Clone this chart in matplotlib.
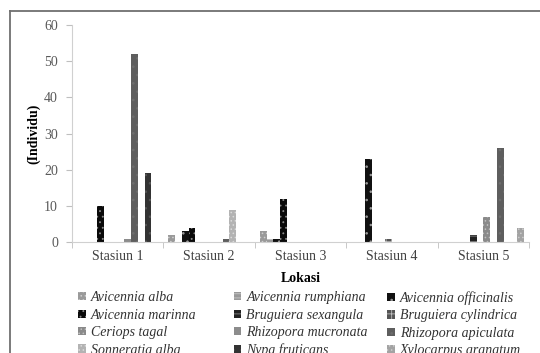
import matplotlib
matplotlib.use('Agg')
import matplotlib.pyplot as plt
import numpy as np
from matplotlib.lines import Line2D
from matplotlib.patches import Patch

plt.rcParams['font.family'] = 'Liberation Serif'
plt.rcParams['hatch.linewidth'] = 0.6

# lokasi pengamatan
stasiun = ['Stasiun 1', 'Stasiun 2', 'Stasiun 3', 'Stasiun 4', 'Stasiun 5']

# jenis mangrove dan jumlah individu per stasiun
jenis = ['Avicennia alba', 'Avicennia rumphiana', 'Avicennia officinalis',
         'Avicennia marinna', 'Bruguiera sexangula', 'Bruguiera cylindrica',
         'Ceriops tagal', 'Rhizopora mucronata', 'Rhizopora apiculata',
         'Sonneratia alba', 'Nypa fruticans', 'Xylocarpus granatum']
avicennia_alba = [0, 2, 3, 0, 0]
avicennia_rumphiana = [0, 0, 1, 0, 0]
avicennia_officinalis = [0, 3, 1, 23, 0]
avicennia_marinna = [10, 4, 12, 0, 0]
bruguiera_sexangula = [0, 0, 0, 0, 2]
bruguiera_cylindrica = [0, 0, 0, 1, 0]
ceriops_tagal = [0, 0, 0, 0, 7]
rhizopora_mucronata = [1, 0, 0, 0, 0]
rhizopora_apiculata = [52, 1, 0, 0, 26]
sonneratia_alba = [0, 9, 0, 0, 0]
nypa_fruticans = [19, 0, 0, 0, 0]
xylocarpus_granatum = [0, 0, 0, 0, 4]

nilai = [avicennia_alba, avicennia_rumphiana, avicennia_officinalis,
         avicennia_marinna, bruguiera_sexangula, bruguiera_cylindrica,
         ceriops_tagal, rhizopora_mucronata, rhizopora_apiculata,
         sonneratia_alba, nypa_fruticans, xylocarpus_granatum]

# isi pola (warna dasar, warna pola, hatch)
pola = [('#9a9a9a', '#cfcfcf', '....'),
        ('#999999', '#c8c8c8', '----'),
        ('#111111', '#9a9a9a', '..'),
        ('#0a0a0a', '#8a8a8a', '...'),
        ('#222222', '#8a8a8a', '---'),
        ('#555555', '#bdbdbd', '+++'),
        ('#8a8a8a', '#c0c0c0', '....'),
        ('#8c8c8c', '#8c8c8c', ''),
        ('#5e5e5e', '#6e6e6e', '..'),
        ('#b3b3b3', '#dadada', '....'),
        ('#333333', '#555555', '..'),
        ('#a3a3a3', '#cccccc', '....')]

fig = plt.figure(figsize=(5.4, 3.53), dpi=100)
ax = fig.add_axes([0.133, 0.314, 0.847, 0.615])

x = np.arange(len(stasiun))
w = 1.0 / 13.5
for i, vals in enumerate(nilai):
    fc, hc, h = pola[i]
    ax.bar(x + (i - 5.5) * w, vals, w, color=fc, edgecolor=hc, hatch=h,
           linewidth=0)

ax.set_xlim(-0.5, 4.5)
ax.set_ylim(0, 60)
ax.set_yticks(np.arange(0, 61, 10))
ax.set_xticks(x)
ax.set_xticklabels(stasiun, fontsize=10, color='#404040')
ax.set_xticks(np.arange(-0.5, 5, 1), minor=True)
ax.tick_params(axis='x', which='major', length=0, pad=6)
ax.tick_params(axis='x', which='minor', length=4, color='#bfbfbf')
ax.tick_params(axis='y', length=4, color='#bfbfbf', labelsize=10,
               labelcolor='#595959', pad=6)
for s in ['top', 'right']:
    ax.spines[s].set_visible(False)
ax.spines['left'].set_color('#d0d0d0')
ax.spines['bottom'].set_color('#d0d0d0')

ax.set_ylabel('(Individu)', fontsize=10, fontweight='bold', labelpad=3)
ax.set_xlabel('Lokasi', fontsize=10, fontweight='bold', labelpad=6)

# legenda tiga kolom
handles = [Patch(facecolor=p[0], edgecolor=p[1], hatch=p[2], linewidth=0)
           for p in pola]
kolom_x = [0.145, 0.433, 0.717]
for k in range(3):
    idx = list(range(k, 12, 3))
    leg = fig.legend([handles[j] for j in idx], [jenis[j] for j in idx],
                     loc='upper left', bbox_to_anchor=(kolom_x[k], 0.175),
                     frameon=False, handlelength=0.55, handleheight=0.55,
                     handletextpad=0.35, labelspacing=0.32, borderpad=0,
                     borderaxespad=0,
                     prop={'family': 'Liberation Serif', 'style': 'italic',
                           'size': 10})
    for t in leg.get_texts():
        t.set_color('#333333')

# bingkai area grafik (atas dan kiri)
fig.add_artist(Line2D([0.0185, 1.0], [0.969, 0.969], color='#707070',
                      linewidth=1.3, transform=fig.transFigure))
fig.add_artist(Line2D([0.0185, 0.0185], [0.0, 0.969], color='#707070',
                      linewidth=1.3, transform=fig.transFigure))

fig.savefig('out.png', dpi=100)
